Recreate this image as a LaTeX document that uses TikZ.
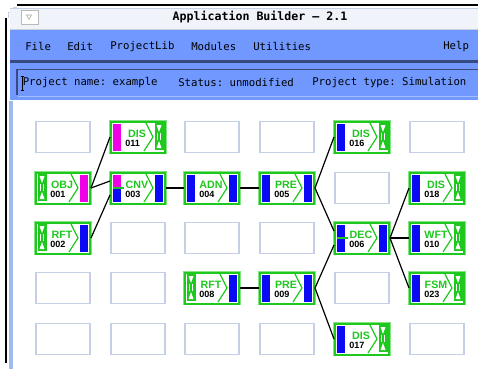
\documentclass[tikz,border=0pt]{standalone}
\usepackage{fontspec}
\setmainfont{Liberation Sans}
\setsansfont{Liberation Sans}
\setmonofont{DejaVu Sans Mono}
\usetikzlibrary{calc}

\definecolor{menublue}{RGB}{112,152,255}
\definecolor{barblue}{RGB}{55,75,130}
\definecolor{fieldline}{RGB}{165,192,255}
\definecolor{titlebg}{RGB}{240,243,250}
\definecolor{stripblue}{RGB}{160,185,240}
\definecolor{slotgray}{RGB}{195,208,230}
\definecolor{modgreen}{RGB}{30,200,30}
\definecolor{halogreen}{RGB}{130,228,130}
\definecolor{portblue}{RGB}{10,10,245}
\definecolor{portmag}{RGB}{240,0,230}

\tikzset{
  slot/.style={draw=slotgray, line width=0.8pt, fill=white,
    minimum width=40.5pt, minimum height=23.25pt, inner sep=0pt},
  modbox/.style={draw=modgreen, line width=1.5pt, fill=white,
    preaction={draw=halogreen, line width=2.6pt},
    minimum width=40.5pt, minimum height=23.25pt, inner sep=0pt},
  modlabel/.style={text=modgreen, font=\sffamily\bfseries\fontsize{8}{9}\selectfont, inner sep=0pt},
  modnum/.style={font=\sffamily\bfseries\fontsize{6.8}{8}\selectfont, inner sep=0pt, anchor=west},
  menutext/.style={font=\ttfamily\fontsize{8}{9.6}\selectfont, inner sep=0pt, anchor=west},
  wire/.style={line width=0.9pt}
}

% module frame, chevron, name and number
\newcommand{\appmodule}[4]{%
  \node[modbox] (#1) at (#2) {};
  \draw[modgreen, line width=0.9pt] ($(#1.north east)+(-20,2.5)$) -- ($(#1.east)+(-13,0)$) -- ($(#1.south east)+(-22,-2.5)$);
  \node[modlabel] (#1-lbl) at ($(#1.north west)+(27,13)$) {#3};
  \node[modnum] (#1-num) at ($(#1.north west)+(15,23)$) {#4};
}
% ports
\newcommand{\inbar}[2]{\fill[#2] ($(#1.north west)+(3,3)$) rectangle ($(#1.south west)+(11,-3)$);}
\newcommand{\outbar}[2]{\fill[#2] ($(#1.north east)+(-11,3)$) rectangle ($(#1.south east)+(-3,-3)$);}
\newcommand{\insplit}[3]{%
  \fill[#2] ($(#1.north west)+(3,3)$) rectangle ($(#1.west)+(11,-1)$);
  \fill[#3] ($(#1.west)+(3,1)$) rectangle ($(#1.south west)+(11,-3)$);
  \draw[modgreen, line width=0.9pt] ($(#1.west)+(3,0)$) -- ($(#1.west)+(14,0)$);}
\newcommand{\hglass}[1]{%
  \begin{scope}[shift={#1}]
    \fill[modgreen] (0,0) rectangle (9,27);
    \fill[white] (2,2) -- (7,2) -- (4.5,9) -- cycle;
    \fill[white] (2,25) -- (7,25) -- (4.5,18) -- cycle;
    \draw[white, line width=0.5pt] (3,10) -- (3,17) (6,10) -- (6,17);
  \end{scope}}
\newcommand{\srcglass}[1]{\hglass{($(#1.north west)+(2.5,2.5)$)}}
\newcommand{\snkglass}[1]{\hglass{($(#1.north east)+(-11.5,2.5)$)}}

\begin{document}
\begin{tikzpicture}[x=0.75pt,y=-0.75pt]
\useasboundingbox (0,0) rectangle (478,369);

% Window frame
\fill[white] (0,0) rectangle (478,369);
\draw[line width=1.5pt] (17,5) -- (478,5);
\draw[line width=1.5pt] (6,18) -- (6,363);
\draw[slotgray] (8,18) -- (8,12) -- (13,12) -- (13,7) -- (17,7);

% Title bar
\fill[titlebg] (10,8) rectangle (478,29);
\draw[slotgray] (10,8) -- (478,8);
\draw[slotgray] (10,29) -- (478,29);
\draw[gray!55, fill=white] (21,10) rectangle (38,24);
\draw[gray!70] (26.5,15) -- (31.5,15) -- (29,19.5) -- cycle;
\node[font=\ttfamily\bfseries\fontsize{8.7}{10}\selectfont, inner sep=0pt] (title) at (260,16.5) {Application Builder – 2.1};

% Menu bar
\fill[menublue] (10,30) rectangle (478,100);
\fill[barblue] (10,60) rectangle (478,62.5);
\node[menutext] (m-file) at (25,46.5) {File};
\node[menutext] (m-edit) at (67,46.5) {Edit};
\node[menutext] (m-lib) at (110,46.5) {ProjectLib};
\node[menutext] (m-mod) at (191,46.5) {Modules};
\node[menutext] (m-util) at (253,46.5) {Utilities};
\node[menutext] (m-help) at (443,46.5) {Help};

% Status field
\draw[barblue, line width=1.2pt] (17,95) -- (17,69.5) -- (478,69.5);
\draw[fieldline, line width=1pt] (18,96.5) -- (478,96.5);
\draw[line width=0.6pt] (22,76) -- (22,90) (20.5,76) -- (23.5,76) (20.5,90) -- (23.5,90);
\node[menutext] (st-name) at (22.5,83) {Project name: example};
\node[menutext] (st-stat) at (178,83) {Status: unmodified};
\node[menutext] (st-type) at (312,83) {Project type: Simulation};

% Canvas
\fill[white] (12,100.5) rectangle (478,369);
\fill[stripblue] (9,100.5) rectangle (13,369);

% Empty slots
\node[slot] (s11) at (63,137) {};
\node[slot] (s13) at (212,137) {};
\node[slot] (s14) at (287,137) {};
\node[slot] (s16) at (437,137) {};
\node[slot] (s25) at (362,188) {};
\node[slot] (s32) at (138,238) {};
\node[slot] (s33) at (212,238) {};
\node[slot] (s34) at (287,238) {};
\node[slot] (s41) at (63,288) {};
\node[slot] (s42) at (138,288) {};
\node[slot] (s45) at (362,288) {};
\node[slot] (s51) at (63,339) {};
\node[slot] (s52) at (138,339) {};
\node[slot] (s53) at (212,339) {};
\node[slot] (s54) at (287,339) {};
\node[slot] (s56) at (437,339) {};

% Modules
\appmodule{dis11}{138,137}{DIS}{011} \inbar{dis11}{portmag} \snkglass{dis11}
\appmodule{dis16}{362,137}{DIS}{016} \inbar{dis16}{portblue} \snkglass{dis16}
\appmodule{obj}{63,188}{OBJ}{001} \srcglass{obj} \outbar{obj}{portmag}
\appmodule{cnv}{138,188}{CNV}{003} \insplit{cnv}{portmag}{portblue} \outbar{cnv}{portblue}
\appmodule{adn}{212,188}{ADN}{004} \inbar{adn}{portblue} \outbar{adn}{portblue}
\appmodule{pre5}{287,188}{PRE}{005} \inbar{pre5}{portblue} \outbar{pre5}{portblue}
\appmodule{dis18}{437,188}{DIS}{018} \inbar{dis18}{portblue} \snkglass{dis18}
\appmodule{rft2}{63,238}{RFT}{002} \srcglass{rft2} \outbar{rft2}{portblue}
\appmodule{dec}{362,238}{DEC}{006} \insplit{dec}{portblue}{portblue} \outbar{dec}{portblue}
\appmodule{wft}{437,238}{WFT}{010} \inbar{wft}{portblue} \snkglass{wft}
\appmodule{rft8}{212,288}{RFT}{008} \srcglass{rft8} \outbar{rft8}{portblue}
\appmodule{pre9}{287,288}{PRE}{009} \inbar{pre9}{portblue} \outbar{pre9}{portblue}
\appmodule{fsm}{437,288}{FSM}{023} \inbar{fsm}{portblue} \snkglass{fsm}
\appmodule{dis17}{362,339}{DIS}{017} \inbar{dis17}{portblue} \snkglass{dis17}

% Input ports of two-input modules
\coordinate (cnv-a) at ($(cnv.west)+(0,-7)$);
\coordinate (cnv-b) at ($(cnv.west)+(0,7)$);
\coordinate (dec-a) at ($(dec.west)+(0,-7)$);
\coordinate (dec-b) at ($(dec.west)+(0,7)$);

% Connections
\draw[wire] (obj.east) -- (dis11.west);
\draw[wire] (obj.east) -- (cnv-a);
\draw[wire] (rft2.east) -- (cnv-b);
\draw[wire] (cnv.east) -- (adn.west);
\draw[wire] (adn.east) -- (pre5.west);
\draw[wire] (pre5.east) -- (dis16.west);
\draw[wire] (pre5.east) -- (dec-a);
\draw[wire] (rft8.east) -- (pre9.west);
\draw[wire] (pre9.east) -- (dec-b);
\draw[wire] (pre9.east) -- (dis17.west);
\draw[wire] (dec.east) -- (dis18.west);
\draw[wire] (dec.east) -- (wft.west);
\draw[wire] (dec.east) -- (fsm.west);

\end{tikzpicture}
\end{document}
